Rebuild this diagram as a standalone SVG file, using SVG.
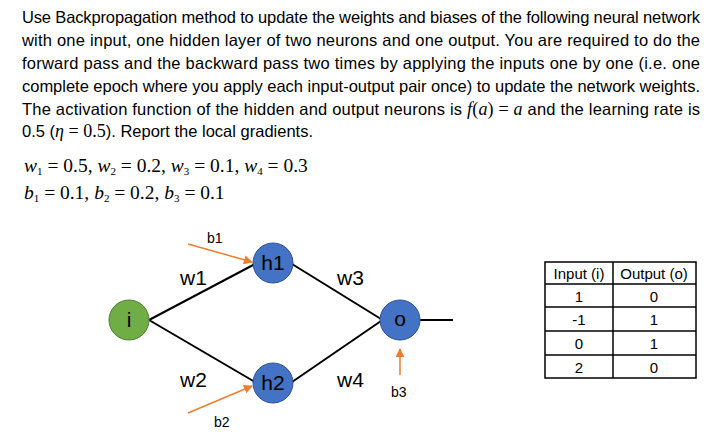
<svg xmlns="http://www.w3.org/2000/svg" width="716" height="434" viewBox="0 0 716 434">
<style>
.p{font-family:"Liberation Sans",Arial,sans-serif;font-size:16.5px;fill:#000}
.m{font-family:"Liberation Serif","Times New Roman",serif;font-size:18px;fill:#000}
.pm{font-family:"Liberation Serif","Times New Roman",serif;font-size:19.5px;fill:#000}
.mi{font-style:italic}
.lb{font-family:"Liberation Sans",Arial,sans-serif;font-size:21px;fill:#000}
.sb{font-family:"Liberation Sans",Arial,sans-serif;font-size:14px;fill:#000}
.hid{fill:#4472C4;stroke:#2F5597;stroke-width:1}
.inp{fill:#70AD47;stroke:#507E32;stroke-width:1}
.e{stroke:#000;stroke-width:2;fill:none}
.b{stroke:#ED7D31;stroke-width:1.5;fill:none;marker-end:url(#ar)}
.t{font-family:"Liberation Sans",Arial,sans-serif;font-size:15px;fill:#000;text-anchor:middle}
.tl{stroke:#000;stroke-width:1.5;fill:none}
</style>
<defs><marker id="ar" viewBox="0 0 10 10" refX="9" refY="5" markerWidth="6" markerHeight="6" orient="auto"><path d="M0,0L10,5L0,10z" fill="#ED7D31"/></marker></defs>
<rect width="716" height="434" fill="#fff"/>
<g id="text">
<text class="p" x="22" y="23" textLength="678" lengthAdjust="spacing">Use Backpropagation method to update the weights and biases of the following neural network</text>
<text class="p" x="22" y="46" textLength="678" lengthAdjust="spacing">with one input, one hidden layer of two neurons and one output. You are required to do the</text>
<text class="p" x="22" y="69" textLength="678" lengthAdjust="spacing">forward pass and the backward pass two times by applying the inputs one by one (i.e. one</text>
<text class="p" x="22" y="92" textLength="678" lengthAdjust="spacing">complete epoch where you apply each input-output pair once) to update the network weights.</text>
<text class="p" x="22" y="115" textLength="678" lengthAdjust="spacing">The activation function of the hidden and output neurons is <tspan class="m mi">f</tspan><tspan class="m">(</tspan><tspan class="m mi">a</tspan><tspan class="m">)  =  </tspan><tspan class="m mi">a</tspan> and the learning rate is</text>
<text class="p" x="22" y="137">0.5 (<tspan class="m mi">η</tspan> <tspan class="m">= 0.5</tspan>). Report the local gradients.</text>
</g>
<g id="params">
<text class="pm" x="24" y="172"><tspan class="mi">w</tspan><tspan font-size="11" dy="3">1</tspan><tspan dy="-3"> = 0.5, </tspan><tspan class="mi">w</tspan><tspan font-size="11" dy="3">2</tspan><tspan dy="-3"> = 0.2, </tspan><tspan class="mi">w</tspan><tspan font-size="11" dy="3">3</tspan><tspan dy="-3"> = 0.1, </tspan><tspan class="mi">w</tspan><tspan font-size="11" dy="3">4</tspan><tspan dy="-3"> = 0.3</tspan></text>
<text class="pm" x="24" y="199"><tspan class="mi">b</tspan><tspan font-size="11" dy="3">1</tspan><tspan dy="-3"> = 0.1, </tspan><tspan class="mi">b</tspan><tspan font-size="11" dy="3">2</tspan><tspan dy="-3"> = 0.2, </tspan><tspan class="mi">b</tspan><tspan font-size="11" dy="3">3</tspan><tspan dy="-3"> = 0.1</tspan></text>
</g>
<g id="connectors">
<line class="e" x1="149" y1="320" x2="255" y2="264"/>
<line class="e" x1="149" y1="320" x2="255" y2="382"/>
<line class="e" x1="292" y1="264" x2="381" y2="319"/>
<line class="e" x1="292" y1="382" x2="381" y2="321"/>
<line class="e" x1="420" y1="320" x2="453" y2="320"/>
<line class="b" x1="188" y1="244" x2="252" y2="262"/>
<line class="b" x1="188" y1="413" x2="252" y2="386"/>
<line class="b" x1="400" y1="375" x2="400" y2="349"/>
<text class="lb" x="180" y="285">w1</text>
<text class="lb" x="337" y="285">w3</text>
<text class="lb" x="180" y="387">w2</text>
<text class="lb" x="337" y="387">w4</text>
<text class="sb" x="207" y="243">b1</text>
<text class="sb" x="214" y="427">b2</text>
<text class="sb" x="391" y="397">b3</text>
</g>
<g id="i"><circle class="inp" cx="129" cy="320" r="20"/><text class="lb" x="129" y="327" text-anchor="middle">i</text></g>
<g id="h1"><circle class="hid" cx="273" cy="263" r="20"/><text class="lb" x="273" y="270" text-anchor="middle">h1</text></g>
<g id="h2"><circle class="hid" cx="273" cy="383" r="20"/><text class="lb" x="273" y="390" text-anchor="middle">h2</text></g>
<g id="o"><circle class="hid" cx="400" cy="320" r="20"/><text class="lb" x="400" y="326" text-anchor="middle">o</text></g>
<g id="table">
<rect class="tl" x="545" y="262" width="151" height="116"/>
<line class="tl" x1="613" y1="262" x2="613" y2="378"/>
<line class="tl" x1="545" y1="284" x2="696" y2="284"/>
<line class="tl" x1="545" y1="307" x2="696" y2="307"/>
<line class="tl" x1="545" y1="331" x2="696" y2="331"/>
<line class="tl" x1="545" y1="355" x2="696" y2="355"/>
<text class="t" x="579" y="279">Input (i)</text><text class="t" x="654" y="279">Output (o)</text>
<text class="t" x="579" y="302">1</text><text class="t" x="654" y="302">0</text>
<text class="t" x="579" y="325">-1</text><text class="t" x="654" y="325">1</text>
<text class="t" x="579" y="349">0</text><text class="t" x="654" y="349">1</text>
<text class="t" x="579" y="373">2</text><text class="t" x="654" y="373">0</text>
</g>
</svg>
